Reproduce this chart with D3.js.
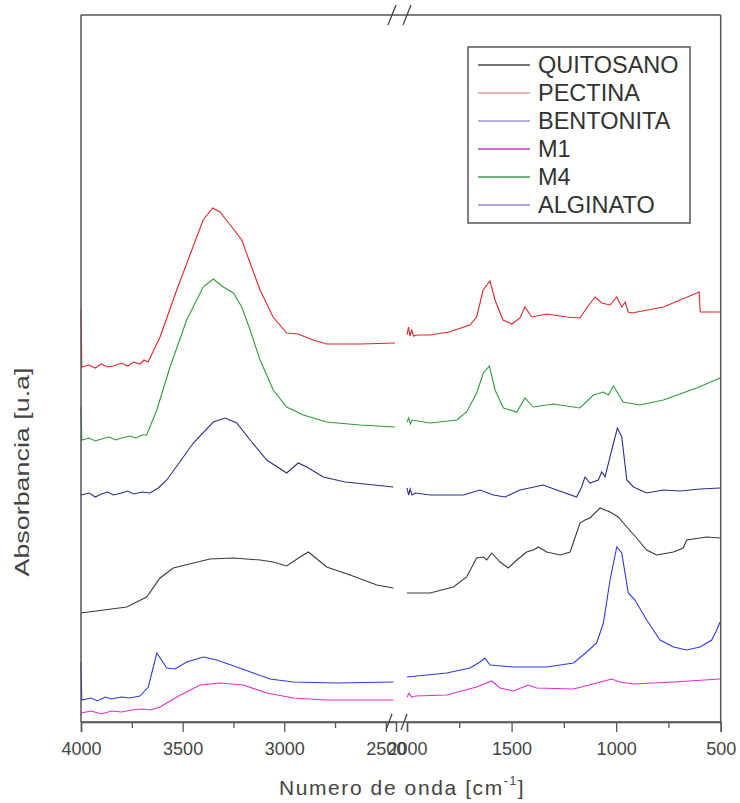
<!DOCTYPE html>
<html><head><meta charset="utf-8">
<script src="https://cdn.jsdelivr.net/npm/d3@7"></script>
<style>body{margin:0;background:#fff}svg{display:block}text{font-family:"Liberation Sans",Arial,sans-serif}</style>
</head><body>
<svg id="c" width="740" height="803"></svg>
<script>
// ---- data: [wavenumber cm-1, absorbance (a.u., arbitrary offset)] ----
const seriesNames = ["QUITOSANO","PECTINA","BENTONITA","M1","M4","ALGINATO"];
const seriesColors = ["#3a3a3a","#e3262b","#2b3be0","#de2ed2","#2f9b3a","#2a2f8c"];
const legendColors = ["#4a4a4a","#e99a9a","#9a9ad6","#c83cc4","#3f9c4c","#8a8ad0"];
const leftTicks = [4000,3500,3000,2500];
const leftMinor = [3750,3250,2750];
const rightTicks = [2000,1500,1000,500];
const rightMinor = [1750,1250,750];

const pectinaLeft = [[4000,4.12],[3996,3.55],[3960,3.57],[3930,3.54],[3900,3.58],[3870,3.55],[3840,3.56],[3800,3.59],[3770,3.56],[3740,3.60],[3710,3.58],[3690,3.62],[3670,3.60],[3611,3.85],[3529,4.32],[3449,4.75],[3399,5.02],[3352,5.14],[3316,5.10],[3258,4.95],[3209,4.82],[3168,4.59],[3119,4.32],[3055,4.05],[2988,3.89],[2932,3.88],[2858,3.82],[2791,3.78],[2627,3.78],[2455,3.79]];
const pectinaRight = [[2000,3.87],[1993,3.95],[1986,3.86],[1978,3.92],[1968,3.86],[1950,3.87],[1890,3.87],[1800,3.90],[1699,3.97],[1667,4.05],[1636,4.32],[1603,4.41],[1579,4.22],[1541,4.02],[1499,3.98],[1460,4.04],[1436,4.15],[1404,4.05],[1332,4.08],[1236,4.05],[1173,4.04],[1141,4.14],[1101,4.25],[1069,4.19],[1029,4.17],[997,4.25],[973,4.15],[957,4.20],[942,4.10],[925,4.09],[774,4.15],[603,4.30],[598,4.10],[503,4.10]];
const m4Left = [[4000,3.15],[3996,2.82],[3960,2.84],[3930,2.81],[3900,2.83],[3860,2.85],[3830,2.82],[3800,2.84],[3760,2.86],[3730,2.84],[3700,2.87],[3677,2.87],[3627,3.12],[3562,3.55],[3480,4.02],[3399,4.35],[3349,4.43],[3300,4.35],[3250,4.29],[3209,4.15],[3168,3.92],[3119,3.62],[3054,3.32],[2988,3.15],[2906,3.07],[2791,3.00],[2627,2.97],[2455,2.95]];
const m4Right = [[2000,3.00],[1992,3.04],[1984,2.98],[1975,3.02],[1890,2.99],[1762,3.02],[1715,3.10],[1667,3.29],[1635,3.49],[1606,3.56],[1579,3.32],[1539,3.14],[1475,3.10],[1436,3.24],[1396,3.15],[1300,3.18],[1173,3.14],[1109,3.27],[1061,3.30],[1037,3.27],[1013,3.36],[966,3.20],[886,3.17],[774,3.22],[615,3.34],[503,3.44]];
const alginatoLeft = [[4000,2.27],[3960,2.29],[3930,2.25],[3900,2.28],[3870,2.30],[3840,2.27],[3800,2.29],[3770,2.31],[3740,2.28],[3700,2.30],[3660,2.29],[3620,2.34],[3578,2.42],[3447,2.79],[3349,3.00],[3291,3.04],[3234,2.99],[3168,2.82],[3086,2.62],[2988,2.49],[2931,2.59],[2889,2.55],[2808,2.45],[2700,2.40],[2463,2.35]];
const alginatoRight = [[2000,2.34],[1992,2.27],[1985,2.33],[1976,2.27],[1960,2.29],[1890,2.27],[1731,2.27],[1651,2.32],[1587,2.27],[1531,2.25],[1460,2.32],[1348,2.37],[1284,2.32],[1189,2.25],[1165,2.35],[1149,2.45],[1125,2.39],[1085,2.42],[1069,2.50],[1053,2.45],[1021,2.72],[994,2.94],[973,2.85],[949,2.42],[917,2.35],[854,2.29],[774,2.32],[694,2.31],[600,2.33],[503,2.34]];
const quitosanoLeft = [[4000,1.09],[3775,1.15],[3677,1.25],[3611,1.44],[3546,1.54],[3447,1.59],[3365,1.63],[3250,1.64],[3119,1.62],[3054,1.60],[2988,1.56],[2922,1.65],[2881,1.70],[2791,1.55],[2676,1.47],[2544,1.37],[2463,1.34]];
const quitosanoRight = [[2000,1.29],[1890,1.29],[1778,1.35],[1715,1.45],[1667,1.64],[1635,1.65],[1619,1.62],[1595,1.69],[1555,1.60],[1516,1.54],[1475,1.62],[1428,1.70],[1396,1.72],[1372,1.75],[1332,1.70],[1268,1.67],[1220,1.70],[1173,1.99],[1149,2.02],[1125,2.04],[1077,2.14],[1029,2.10],[990,2.05],[949,1.95],[902,1.84],[854,1.72],[806,1.67],[726,1.70],[679,1.74],[663,1.82],[567,1.85],[503,1.84]];
const bentonitaLeft = [[4000,0.60],[3996,0.22],[3950,0.24],[3920,0.21],[3880,0.25],[3850,0.23],[3800,0.25],[3760,0.24],[3710,0.26],[3669,0.35],[3627,0.69],[3578,0.54],[3537,0.53],[3480,0.60],[3398,0.65],[3332,0.62],[3234,0.55],[3152,0.49],[3070,0.43],[2955,0.40],[2742,0.39],[2463,0.40]];
const bentonitaRight = [[2000,0.45],[1810,0.49],[1699,0.54],[1651,0.60],[1627,0.64],[1603,0.57],[1492,0.55],[1332,0.55],[1204,0.59],[1141,0.70],[1093,0.79],[1061,0.99],[1029,1.42],[997,1.75],[973,1.69],[942,1.29],[910,1.22],[854,1.02],[790,0.82],[726,0.75],[663,0.72],[599,0.75],[543,0.82],[519,0.92],[503,1.00]];
const m1Left = [[4000,0.09],[3950,0.11],[3900,0.08],[3850,0.11],[3800,0.10],[3750,0.12],[3700,0.13],[3660,0.12],[3611,0.15],[3529,0.25],[3414,0.37],[3316,0.39],[3201,0.37],[3086,0.29],[2955,0.24],[2791,0.22],[2463,0.22]];
const m1Right = [[2000,0.25],[1990,0.29],[1978,0.25],[1960,0.26],[1810,0.27],[1667,0.35],[1595,0.41],[1555,0.34],[1492,0.31],[1420,0.37],[1380,0.34],[1204,0.33],[1093,0.39],[1021,0.43],[982,0.40],[918,0.38],[726,0.40],[503,0.43]];

const leftData = {QUITOSANO:quitosanoLeft,PECTINA:pectinaLeft,BENTONITA:bentonitaLeft,M1:m1Left,M4:m4Left,ALGINATO:alginatoLeft};
const rightData = {QUITOSANO:quitosanoRight,PECTINA:pectinaRight,BENTONITA:bentonitaRight,M1:m1Right,M4:m4Right,ALGINATO:alginatoRight};

// ---- layout ----
const svg = d3.select("#c");
const pTop = 15, pBottom = 722, pLeft = 81, pRight = 720.7;
const xL = d3.scaleLinear().domain([4000,2450]).range([pLeft,396]);
const xR = d3.scaleLinear().domain([2000,500]).range([407,pRight]);
const y = d3.scaleLinear().domain([0,7.07]).range([pBottom,pTop]);
const frame = "#555";

// curves
seriesNames.forEach((n,i)=>{
  svg.append("path").datum(leftData[n]).attr("fill","none").attr("stroke",seriesColors[i]).attr("stroke-width",1.1)
    .attr("d",d3.line().x(d=>xL(d[0])).y(d=>y(d[1])));
  svg.append("path").datum(rightData[n]).attr("fill","none").attr("stroke",seriesColors[i]).attr("stroke-width",1.1)
    .attr("d",d3.line().x(d=>xR(d[0])).y(d=>y(d[1])));
});

// frame
svg.append("line").attr("x1",pLeft).attr("x2",pRight).attr("y1",pTop).attr("y2",pTop).attr("stroke",frame).attr("stroke-width",1.5);
svg.append("line").attr("x1",pLeft).attr("x2",pLeft).attr("y1",pTop).attr("y2",pBottom).attr("stroke",frame).attr("stroke-width",1.5);
svg.append("line").attr("x1",pRight).attr("x2",pRight).attr("y1",pTop).attr("y2",pBottom).attr("stroke",frame).attr("stroke-width",1.5);

function drawAxis(scale, major, minor){
  const g = svg.append("g").attr("transform",`translate(0,${pBottom})`)
    .call(d3.axisBottom(scale).tickValues(major).tickSize(10).tickPadding(10).tickFormat(d3.format("d")));
  g.selectAll("path.domain").attr("stroke",frame).attr("stroke-width",1.5);
  g.selectAll(".tick line").attr("stroke",frame).attr("stroke-width",1.3);
  g.selectAll("text").attr("font-size",18).attr("fill","#444").attr("font-family","Liberation Sans, Arial, sans-serif");
  const m = svg.append("g").attr("transform",`translate(0,${pBottom})`)
    .call(d3.axisBottom(scale).tickValues(minor).tickSize(6).tickFormat(""));
  m.selectAll("path.domain").remove();
  m.selectAll(".tick line").attr("stroke",frame).attr("stroke-width",1.3);
}
drawAxis(xL,leftTicks,leftMinor);
drawAxis(xR,rightTicks,rightMinor);
svg.append("line").attr("x1",pLeft).attr("x2",pRight).attr("y1",pBottom).attr("y2",pBottom).attr("stroke",frame).attr("stroke-width",1.5);

// break marks
[[386,730,392,714],[401,730,407,714],[388,25,396,5],[403,25,411,5]].forEach(b=>{
  svg.append("line").attr("x1",b[0]).attr("y1",b[1]).attr("x2",b[2]).attr("y2",b[3]).attr("stroke","#444").attr("stroke-width",1.3);
});

// axis titles
const xt = svg.append("text").attr("x",402).attr("y",795).attr("text-anchor","middle").attr("font-size",21)
  .attr("letter-spacing",1.6).attr("fill","#444");
xt.append("tspan").text("Numero de onda [cm");
xt.append("tspan").attr("font-size",12).attr("dy",-10).text("-1");
xt.append("tspan").attr("dy",10).text("]");
svg.append("text").attr("transform","translate(29,472) rotate(-90)").attr("text-anchor","middle")
  .attr("font-size",20).attr("fill","#444").attr("textLength",209).attr("lengthAdjust","spacingAndGlyphs").text("Absorbancia [u.a]");

// legend
const lg = svg.append("g");
lg.append("rect").attr("x",468).attr("y",47).attr("width",222).attr("height",176).attr("fill","#fff").attr("stroke",frame).attr("stroke-width",1.5);
seriesNames.forEach((n,i)=>{
  const yy = 65 + i*28;
  lg.append("line").attr("x1",478).attr("x2",530).attr("y1",yy).attr("y2",yy).attr("stroke",legendColors[i]).attr("stroke-width",1.3);
  lg.append("text").attr("x",538).attr("y",yy+8).attr("font-size",23.5).attr("fill","#333").text(n);
});
</script>
</body></html>
